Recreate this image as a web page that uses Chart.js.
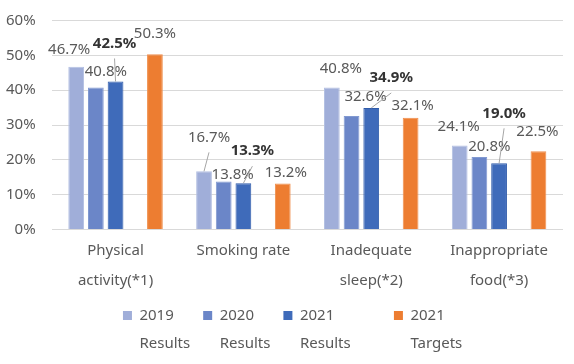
<!DOCTYPE html>
<html>
<head>
<meta charset="utf-8">
<script src="https://cdn.jsdelivr.net/npm/chart.js@4/dist/chart.umd.min.js"></script>
<style>
  html, body { margin: 0; padding: 0; background: #fff; }
  #wrap { width: 574px; height: 364px; }
</style>
</head>
<body>
<div id="wrap"><canvas id="HealthChart"></canvas></div>
<script>
// categories (two lines each)
const categories = [
    ['Physical', 'activity(*1)'],
    ['Smoking rate'],
    ['Inadequate', 'sleep(*2)'],
    ['Inappropriate', 'food(*3)']
];

// series values (%)
const results2019 = [46.7, 16.7, 40.8, 24.1];
const results2020 = [40.8, 13.8, 32.6, 20.8];
const results2021 = [42.5, 13.3, 34.9, 19.0];
const targets2021 = [50.3, 13.2, 32.1, 22.5];

// legend: first line drawn by chart.js, second line by the plugin below
// (blank entries and trailing spaces give the Excel spacing)
const legendFirst = ['    ', '2019      ', '2020      ', '2021      ', '  ', '2021      '];
const legendSecond = ['', 'Results', 'Results', 'Results', '', 'Targets'];
const legendDataset = [-1, 0, 1, 2, 3, 4];
const yTicks = [0, 10, 20, 30, 40, 50, 60];

// label placement (dx, dy from bar top), Excel labels were moved by hand
const labelOffsets = [
    [[-7, -17], [5, -34], [9, -19], [-1, -19]],
    [[10, -16], [9, -7], [14, -19], [10, -10]],
    [[-1, -38], [9, -32], [20, -30], [5, -50]],
    [],
    [[0, -21], [3, -11], [2, -12], [-1, -19]]
];
const leaderLines = [
    [false, true, false, false],
    [false, false, false, false],
    [true, true, true, true],
    [],
    [false, false, false, false]
];

const valueLabels = {
    id: 'valueLabels',
    afterDatasetsDraw: function(chart) {
        const ctx = chart.ctx;
        ctx.save();
        chart.data.datasets.forEach(function(ds, i) {
            const meta = chart.getDatasetMeta(i);
            meta.data.forEach(function(bar, j) {
                const v = ds.data[j];
                if (v === null || v === undefined) return;
                const off = labelOffsets[i][j];
                const lx = bar.x + off[0];
                const ly = bar.y + off[1];
                if (leaderLines[i][j]) {
                    ctx.strokeStyle = '#A6A6A6';
                    ctx.lineWidth = 1;
                    ctx.beginPath();
                    ctx.moveTo(lx, ly + 15);
                    ctx.lineTo(bar.x, bar.y);
                    ctx.stroke();
                }
                const bold = i === 2;
                ctx.font = (bold ? 'bold ' : '') + '15px "Noto Sans"';
                ctx.fillStyle = bold ? '#333333' : '#595959';
                ctx.textAlign = 'center';
                ctx.textBaseline = 'middle';
                ctx.fillText(v.toFixed(1) + '%', lx, ly);
            });
        });
        ctx.restore();
    }
};

const legendSecondLine = {
    id: 'legendSecondLine',
    afterDraw: function(chart) {
        const legend = chart.legend;
        if (!legend || !legend.legendHitBoxes) return;
        const ctx = chart.ctx;
        ctx.save();
        ctx.font = '15px "Noto Sans"';
        ctx.fillStyle = '#595959';
        ctx.textAlign = 'left';
        ctx.textBaseline = 'middle';
        legend.legendHitBoxes.forEach(function(hb, i) {
            if (!legendSecond[i]) return;
            ctx.fillText(legendSecond[i], hb.left + 9 + 7.5, hb.top + hb.height / 2 + 28);
        });
        ctx.restore();
    }
};

window.onload = function() {
    const ctx = document.getElementById('HealthChart').getContext('2d');

    const HealthChart = new Chart(ctx, {
        type: 'bar',
        data: {
            labels: categories,
            datasets: [
                { label: '2019 Results', data: results2019, backgroundColor: '#A0AED9', borderColor: '#B4C0E2', borderWidth: 1 },
                { label: '2020 Results', data: results2020, backgroundColor: '#6B86C8', borderColor: '#8199D1', borderWidth: 1 },
                { label: '2021 Results', data: results2021, backgroundColor: '#3F6BBA', borderColor: '#2F5BAA', borderWidth: 1 },
                { label: '', data: [null, null, null, null], backgroundColor: 'rgba(0,0,0,0)' },
                { label: '2021 Targets', data: targets2021, backgroundColor: '#ED7D31', borderColor: '#F08F4E', borderWidth: 1 }
            ]
        },
        options: {
            responsive: true,
            maintainAspectRatio: false,
            animation: false,
            categoryPercentage: 0.77,
            barPercentage: 0.8,
            layout: {
                padding: { left: -10, right: 11, top: 0, bottom: 31 }
            },
            scales: {
                x: {
                    grid: { display: false, drawTicks: false },
                    border: { display: false },
                    ticks: {
                        color: '#595959',
                        padding: 7,
                        maxRotation: 0,
                        font: { family: 'Noto Sans', size: 15, lineHeight: 1.95 }
                    }
                },
                y: {
                    min: 0,
                    max: 60,
                    afterBuildTicks: function(axis) {
                        axis.ticks = yTicks.map(function(v) { return { value: v }; });
                    },
                    grid: { color: '#D9D9D9', drawTicks: false },
                    border: { display: false },
                    ticks: {
                        color: '#595959',
                        padding: 16,
                        font: { family: 'Noto Sans', size: 15, lineHeight: 0.6 },
                        callback: function(value) { return value + '%'; }
                    }
                }
            },
            plugins: {
                tooltip: { enabled: false },
                legend: {
                    position: 'bottom',
                    labels: {
                        boxWidth: 9,
                        boxHeight: 9,
                        padding: 6,
                        color: '#595959',
                        font: { family: 'Noto Sans', size: 15 },
                        generateLabels: function(chart) {
                            return legendFirst.map(function(text, k) {
                                const ds = chart.data.datasets[legendDataset[k]];
                                const color = ds ? ds.backgroundColor : 'rgba(0,0,0,0)';
                                return {
                                    text: text,
                                    fillStyle: color,
                                    strokeStyle: color,
                                    lineWidth: 0,
                                    hidden: false,
                                    datasetIndex: legendDataset[k],
                                    fontColor: '#595959'
                                };
                            });
                        }
                    }
                }
            }
        },
        plugins: [valueLabels, legendSecondLine]
    });
};
</script>
</body>
</html>
